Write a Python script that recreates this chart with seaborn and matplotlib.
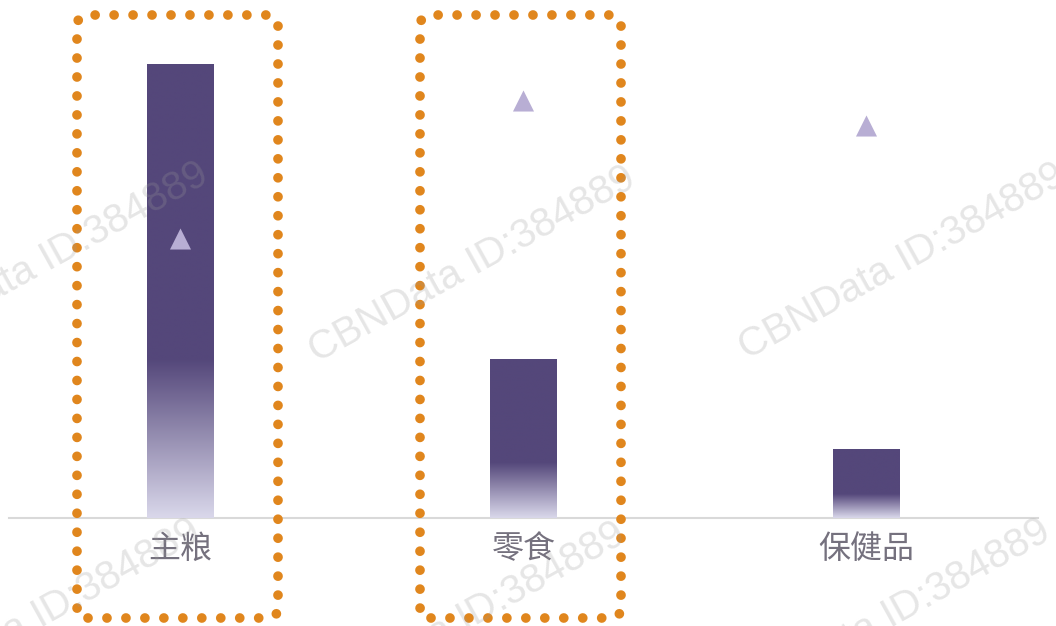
import numpy as np
import pandas as pd
import matplotlib
matplotlib.use("Agg")
import matplotlib.pyplot as plt
import seaborn as sns
from matplotlib.patches import FancyBboxPatch
from matplotlib.colors import LinearSegmentedColormap

categories = ["主粮", "零食", "保健品"]
bar_values = [45.4, 15.9, 6.9]
marker_values = [27.9, 41.7, 39.2]
highlighted = [0, 1]
watermark = "CBNData ID:384889"

sns.set_theme(style="white")
plt.rcParams['font.family'] = ['Noto Sans CJK SC', 'DejaVu Sans']

W, H = 1056, 626
fig = plt.figure(figsize=(W / 100, H / 100), dpi=100)
ax = fig.add_axes([9 / W, (H - 518) / H, (1038 - 9) / W, 518 / H])

df = pd.DataFrame({"cat": categories, "val": bar_values, "mk": marker_values})
bar_color = "#54477A"
sns.barplot(data=df, x="cat", y="val", color=bar_color, width=0.195,
            saturation=1, ax=ax, zorder=2)
ax.set_xlim(-0.5, 2.5)
ax.set_ylim(0, 51.8)

# gradient overlays on each bar (light at bottom fading into solid color)
cmap = LinearSegmentedColormap.from_list("g", ["#D9D7EA", bar_color])
for p in list(ax.patches):
    x0, w, h = p.get_x(), p.get_width(), p.get_height()
    n = 256
    f = np.linspace(0, 1, n)
    g = np.clip(f / 0.35, 0, 1)
    img = g.reshape(-1, 1)
    im = ax.imshow(img, cmap=cmap, vmin=0, vmax=1, aspect="auto", origin="lower",
                   extent=[x0, x0 + w, 0, h], zorder=3, interpolation="bilinear")
    im.set_clip_path(p)
ax.set_xlim(-0.5, 2.5)
ax.set_ylim(0, 51.8)

sns.scatterplot(data=df, x="cat", y="mk", marker="^", s=230, color="#B8AED4",
                edgecolor="none", ax=ax, zorder=4, legend=False)

for s in ["top", "right", "left"]:
    ax.spines[s].set_visible(False)
ax.spines["bottom"].set_color("#D9D9D9")
ax.spines["bottom"].set_linewidth(1.5)
ax.set_yticks([])
ax.set_xlabel("")
ax.set_ylabel("")
ax.tick_params(axis="x", length=0, pad=11, labelsize=23, labelcolor="#75717E")

# dotted rounded boxes around highlighted categories (display pixels)
fig.canvas.draw()
for i in highlighted:
    cx = ax.transData.transform((i, 0))[0]
    left, right = cx - 103.5, cx + 97.5
    top, bottom = H - 15, H - 618
    box = FancyBboxPatch((left, bottom), right - left, top - bottom,
                         boxstyle="round,pad=0,rounding_size=11",
                         transform=None, fill=False, edgecolor="#E0861D",
                         linewidth=7, linestyle=(0, (0.001, 1.95)),
                         capstyle="round", zorder=5)
    fig.patches.append(box)
    box.set_figure(fig)

# watermarks
wm_centers = [(45, 261), (472, 265), (902, 262), (37, 618), (462, 621), (887, 618)]
for (x, y) in wm_centers:
    fig.text(x / W, 1 - y / H, watermark, rotation=29, ha="center", va="center",
             rotation_mode="anchor", fontsize=29, color="#9A9A9A", alpha=0.25,
             family="Liberation Sans", zorder=10)

fig.savefig("out.png", dpi=100)
